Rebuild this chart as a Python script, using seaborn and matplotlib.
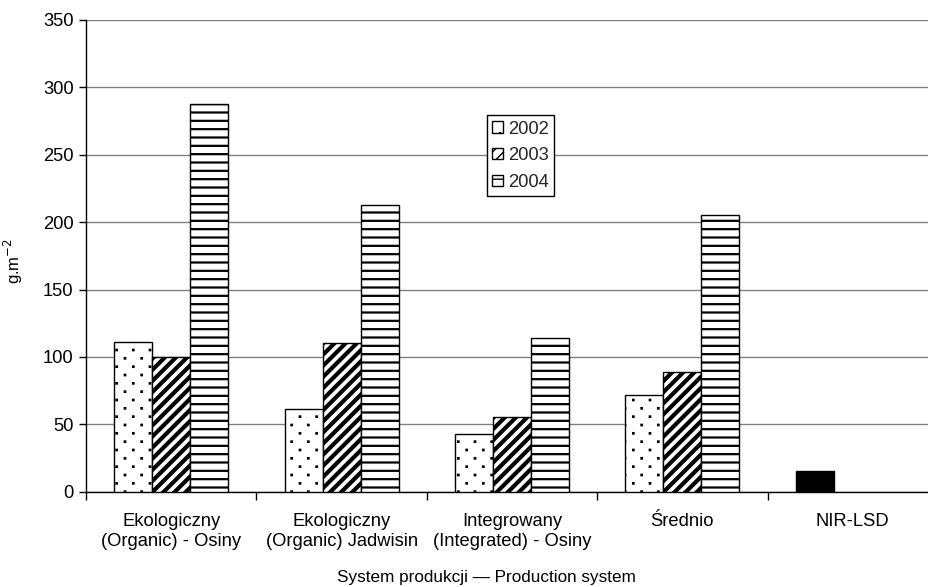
import numpy as np
import pandas as pd
import matplotlib
matplotlib.use("Agg")
import matplotlib.pyplot as plt
import matplotlib.hatch as mhatch
from matplotlib.path import Path
from matplotlib.patches import Patch
import seaborn as sns

# ---- data -------------------------------------------------------------
categories = [
    "Ekologiczny\n(Organic) - Osiny",
    "Ekologiczny\n(Organic) Jadwisin",
    "Integrowany\n(Integrated) - Osiny",
    "Średnio",
]
nir_label = "NIR-LSD"
years = ["2002", "2003", "2004"]
y2002 = [111, 61.5, 43, 71.8]
y2003 = [100, 110.7, 55.5, 88.7]
y2004 = [288, 213, 114, 205]
nir_value = 15.4
y_ticks = [0, 50, 100, 150, 200, 250, 300, 350]


# ---- sparse staggered dot hatch for '.' -------------------------------
class StaggeredDots(mhatch.HatchPatternBase):
    half = 0.006

    def __init__(self, hatch, density):
        n = hatch.count('.')
        self.ncol = int(n * density)
        self.nrow = 2 * self.ncol
        if n == 0:
            self.num_vertices = 0
        else:
            n_even = self.nrow // 2 + 1
            n_odd = self.nrow // 2
            self.num_dots = n_even * (self.ncol + 1) + n_odd * self.ncol
            self.num_vertices = self.num_dots * 5

    def set_vertices_and_codes(self, vertices, codes):
        h = self.half
        sq = np.array([[-h, -h], [h, -h], [h, h], [-h, h], [-h, -h]])
        sq_codes = [Path.MOVETO, Path.LINETO, Path.LINETO, Path.LINETO,
                    Path.CLOSEPOLY]
        vparts, cparts = [], []
        for r in range(self.nrow + 1):
            y = r / self.nrow
            if r % 2 == 0:
                xs = np.arange(self.ncol + 1) / self.ncol
            else:
                xs = (np.arange(self.ncol) + 0.5) / self.ncol
            for x in xs:
                vparts.append(sq + [x, y])
                cparts.append(sq_codes)
        np.concatenate(vparts, out=vertices)
        np.concatenate(cparts, out=codes)


mhatch._hatch_types = [StaggeredDots if t is mhatch.SmallFilledCircles else t
                       for t in mhatch._hatch_types]

# ---- long-form table --------------------------------------------------
rows = []
for cat, a, b, c in zip(categories, y2002, y2003, y2004):
    rows += [(cat, "2002", a), (cat, "2003", b), (cat, "2004", c)]
rows += [(nir_label, "2002", nir_value)]
df = pd.DataFrame(rows, columns=["system", "year", "value"])
order = categories + [nir_label]

# ---- figure -----------------------------------------------------------
sns.set_theme(style="white")
plt.rcParams["font.family"] = ["Liberation Sans", "DejaVu Sans"]

fig = plt.figure(figsize=(9.29, 5.87), dpi=100)
ax = fig.add_axes([86 / 929, (587 - 491.7) / 587, 852 / 929, 471.7 / 587])

sns.barplot(data=df, x="system", y="value", hue="year", order=order,
            hue_order=years, palette=["white"] * 3, width=0.67, gap=0,
            edgecolor="black", linewidth=1.0, errorbar=None, legend=False,
            saturation=1, ax=ax, zorder=3)

hatches = {"2002": ".", "2003": "///", "2004": "--"}
hatch_lw = {"2002": 1.1, "2003": 3.0, "2004": 1.6}
for year, cont in zip(years, ax.containers):
    for bar in cont:
        bar.set_hatch(hatches[year])
        if hasattr(bar, "set_hatch_linewidth"):
            bar.set_hatch_linewidth(hatch_lw[year])
        # the LSD bar sits in the last category, drawn solid black
        if year == "2002" and abs(bar.get_x() + bar.get_width() / 2 - 4) < 0.5:
            bar.set_hatch(None)
            bar.set_facecolor("black")

ax.set_xlim(-0.5, 4.5)
ax.set_ylim(0, 350)
ax.set_yticks(y_ticks)
ax.yaxis.grid(True, color="#808080", linewidth=1.0, zorder=0)
ax.set_axisbelow(True)

for side in ["top", "right"]:
    ax.spines[side].set_visible(False)
for side in ["left", "bottom"]:
    ax.spines[side].set_color("black")
    ax.spines[side].set_linewidth(1.0)

ax.tick_params(axis="y", which="major", left=True, length=5, width=1,
               color="black", labelsize=13.2, labelcolor="black", pad=4)
ax.tick_params(axis="x", which="major", bottom=False, length=0,
               labelsize=13.2, labelcolor="black", pad=15)
ax.set_xticks(np.arange(len(order)))
ax.set_xticklabels(order, linespacing=1.3)
ax.set_xticks(np.arange(len(order)) - 0.5, minor=True)
ax.tick_params(axis="x", which="minor", bottom=True, length=6, width=1,
               color="black")

ax.set_ylabel("g.m$^{-2}$", fontsize=12, labelpad=10, color="black")
ax.yaxis.set_label_coords(-0.072, 0.49)
ax.set_xlabel("System produkcji — Production system", fontsize=12.3,
              color="black", labelpad=10)
ax.xaxis.set_label_coords((486 - 86) / 852, -0.165)

handles = [Patch(facecolor="white", edgecolor="black", hatch=hatches[y],
                 linewidth=1.0, label=y) for y in years]
leg = fig.legend(handles=handles, loc="upper left",
                 bbox_to_anchor=(487 / 929, 1 - 115 / 587),
                 frameon=True, fancybox=False, shadow=False,
                 edgecolor="black", facecolor="white", framealpha=1,
                 fontsize=13.2, handlelength=0.56, handleheight=0.56,
                 handletextpad=0.27, borderpad=0.3, labelspacing=0.52,
                 borderaxespad=0)
leg.get_frame().set_linewidth(1.0)

fig.savefig("out.png", dpi=100)
